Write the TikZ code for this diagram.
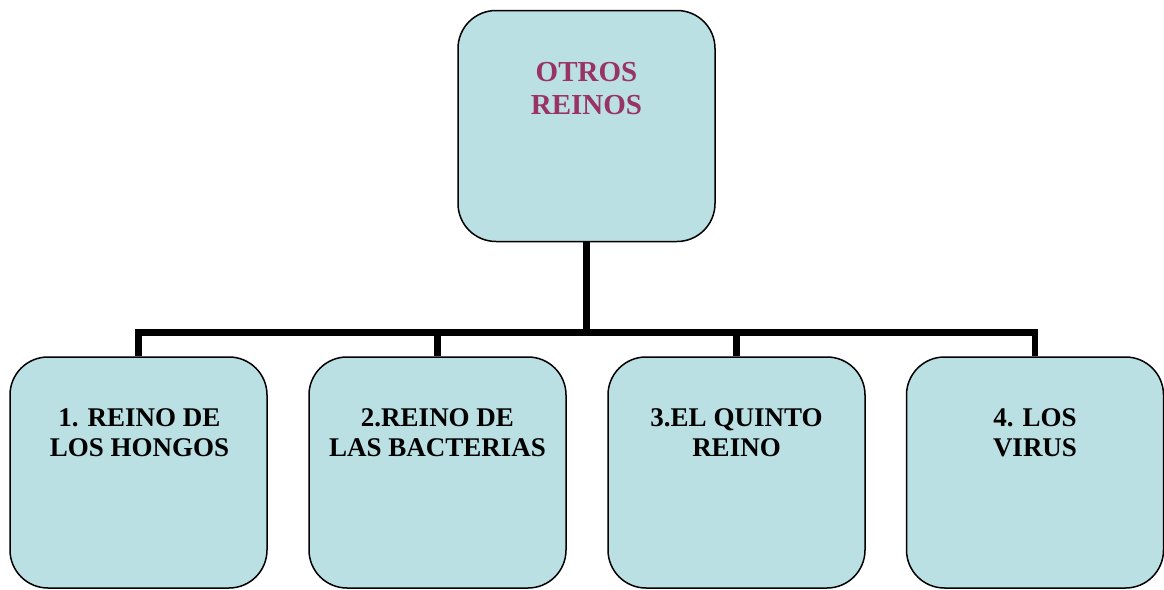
\documentclass[tikz,border=0pt]{standalone}
\usepackage{fontspec}
\setmainfont{Liberation Serif}
\definecolor{boxfill}{HTML}{BBE0E3}
\definecolor{titlecol}{HTML}{993366}
\begin{document}
\begin{tikzpicture}[x=1pt,y=-1pt,
  kbox/.style={draw=black,line width=1.5pt,fill=boxfill,rounded corners=38pt,
    minimum width=257pt,minimum height=231pt,inner sep=0pt},
  toptext/.style={anchor=north,inner sep=0pt,align=center,text=titlecol,
    font=\bfseries\fontsize{29}{33}\selectfont},
  subtext/.style={anchor=north,inner sep=0pt,align=center,text=black,
    font=\bfseries\fontsize{27}{30.5}\selectfont},
  conn/.style={draw=black,line width=6.5pt}]
\useasboundingbox (0,0) rectangle (1164,589);
\node[kbox] (top) at (586.5,126) {};
\node[kbox] (b1) at (138.5,472.5) {};
\node[kbox] (b2) at (437.5,472.5) {};
\node[kbox] (b3) at (736.5,472.5) {};
\node[kbox] (b4) at (1035,472.5) {};
\node[toptext] (t0) at (586.5,62) {OTROS\\REINOS};
\node[subtext] (t1) at (139.5,408) {1. REINO DE\\LOS HONGOS};
\node[subtext] (t2) at (437.5,408) {2.REINO DE\\LAS BACTERIAS};
\node[subtext] (t3) at (736.5,408) {3.EL QUINTO\\REINO};
\node[subtext] (t4) at (1035,408) {4. LOS\\VIRUS};
\coordinate (j) at (586.5,332.5);
\draw[conn] (top.south) -- (j);
\draw[conn] (j) -| (b1.north);
\draw[conn] (j) -| (b2.north);
\draw[conn] (j) -| (b3.north);
\draw[conn] (j) -| (b4.north);
\end{tikzpicture}
\end{document}
